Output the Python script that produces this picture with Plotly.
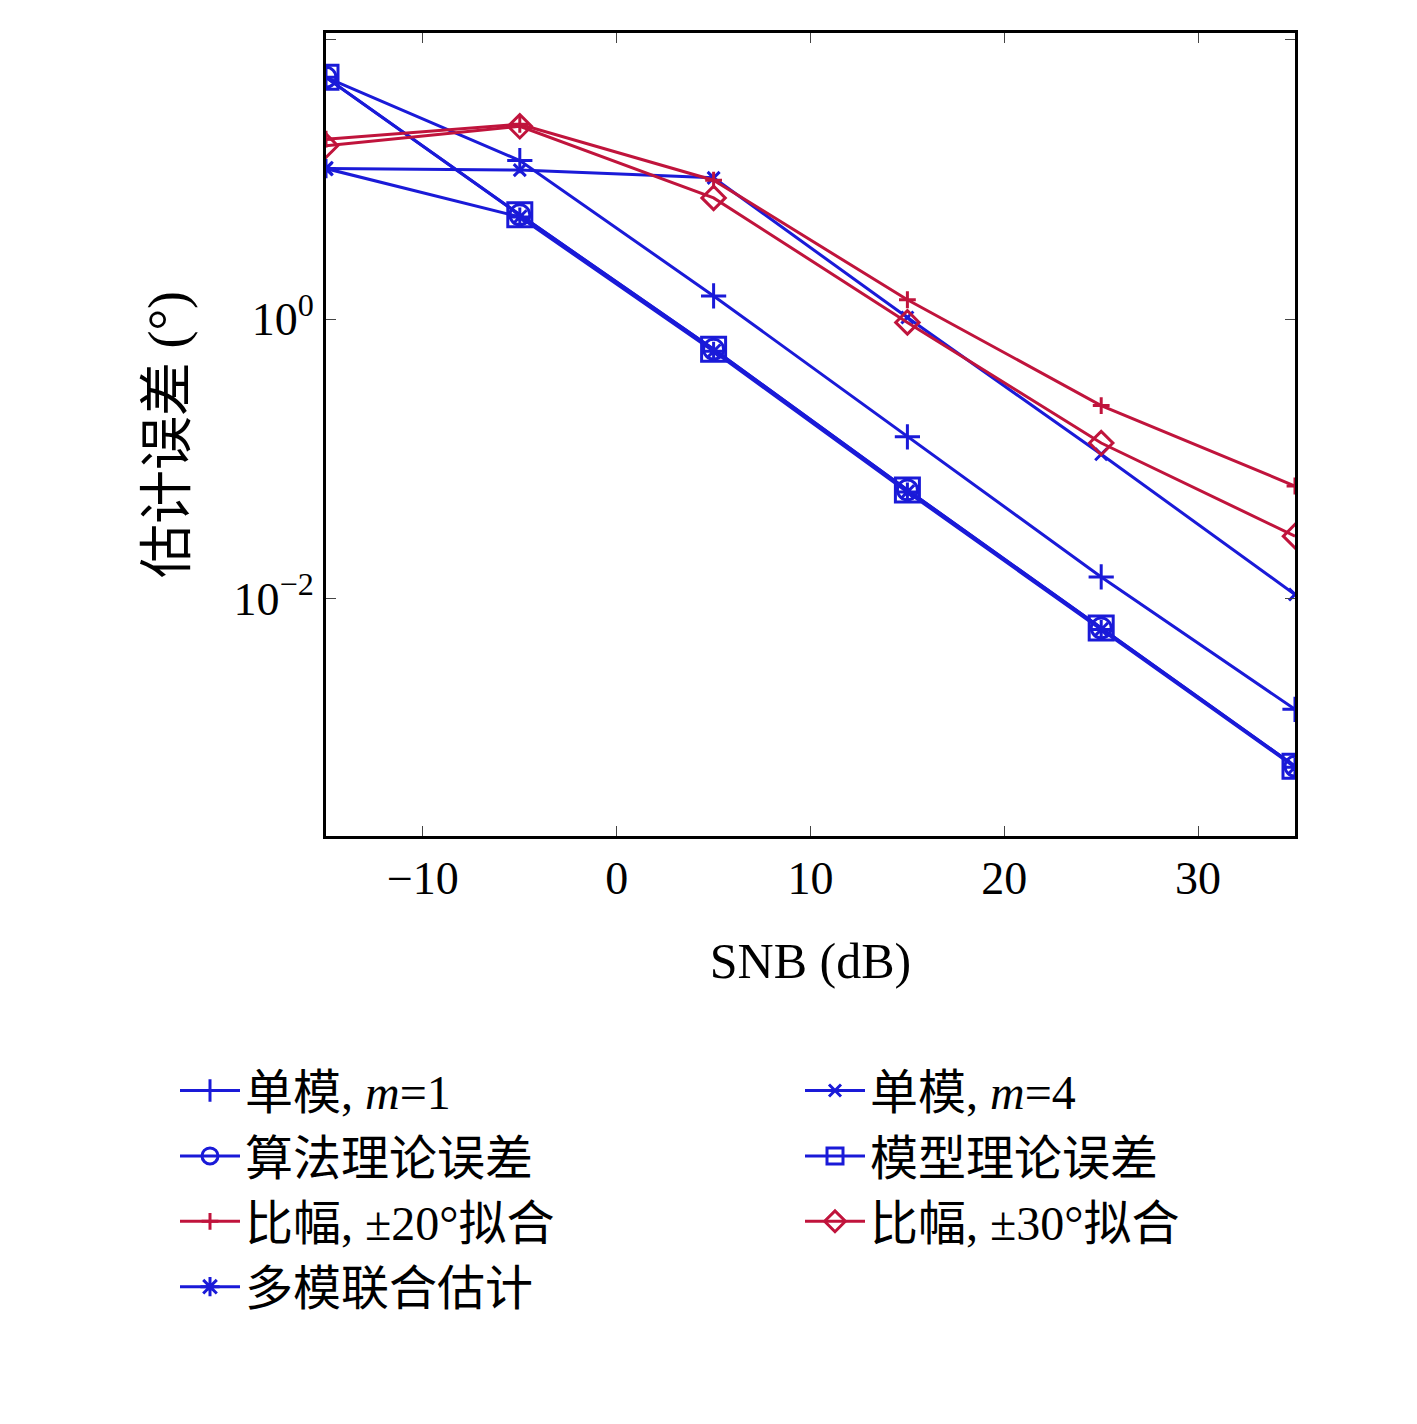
import plotly.graph_objects as go

snr = [-15, -5, 5, 15, 25, 35]
m1 = [54, 13.7, 1.47, 0.144, 0.0143, 0.00161]
m4 = [12, 11.7, 10.3, 1.03, 0.108, 0.0107]
alg_theory = [54, 5.6, 0.61, 0.060, 0.00615, 0.00063]
model_theory = [54, 5.6, 0.61, 0.060, 0.00615, 0.00063]
ratio20 = [19.5, 24.9, 9.9, 1.38, 0.241, 0.064]
ratio30 = [17.5, 24.1, 7.4, 0.95, 0.13, 0.028]
multi = [12, 5.4, 0.59, 0.058, 0.006, 0.00062]

BLUE = "#1a1ad8"
RED = "#c0143c"

series = [
    ("单模, <i>m</i>=1", m1, BLUE, "cross-thin-open", 18),
    ("单模, <i>m</i>=4", m4, BLUE, "x-thin-open", 12),
    ("算法理论误差", alg_theory, BLUE, "circle-open", 20),
    ("模型理论误差", model_theory, BLUE, "square-open", 24),
    ("比幅, ±20°拟合", ratio20, RED, "cross-thin-open", 12),
    ("比幅, ±30°拟合", ratio30, RED, "diamond-open", 18),
    ("多模联合估计", multi, BLUE, "asterisk-open", 16),
]

fig = go.Figure()
for name, vals, color, sym, size in series:
    fig.add_trace(go.Scatter(
        x=snr, y=vals, name=name, mode="lines+markers",
        line=dict(color=color, width=3),
        marker=dict(symbol=sym, size=size, color=color, line=dict(width=3, color=color)),
    ))

fig.update_layout(
    width=1417, height=1424,
    paper_bgcolor="white", plot_bgcolor="white",
    margin=dict(l=318, r=130, t=25, b=596),
    font=dict(family="Liberation Serif, Noto Sans CJK SC", size=40, color="black"),
    legend=dict(orientation="h", x=-0.02, y=-0.27, xanchor="left", yanchor="top",
                entrywidth=550, font=dict(size=48), tracegroupgap=0, itemwidth=60),
)
fig.update_xaxes(range=[-15, 35], tickvals=[-10, 0, 10, 20, 30],
                 ticktext=["−10", "0", "10", "20", "30"],
                 showgrid=False, zeroline=False, showline=True, linecolor="black",
                 linewidth=3, mirror="ticks", ticks="inside", ticklen=10,
                 tickfont=dict(size=46),
                 title=dict(text="SNB (dB)", font=dict(size=50), standoff=40))
fig.update_yaxes(type="log", range=[-3.7, 2.05], tickvals=[0.01, 1, 100],
                 ticktext=["10<sup>−2</sup>", "10<sup>0</sup>", "10<sup>2</sup>"],
                 showgrid=False, zeroline=False, showline=True, linecolor="black",
                 linewidth=3, mirror="ticks", ticks="inside", ticklen=10,
                 tickfont=dict(size=46),
                 title=dict(text="估计误差 (°)", font=dict(size=54), standoff=30))

fig.write_html("out.html")
